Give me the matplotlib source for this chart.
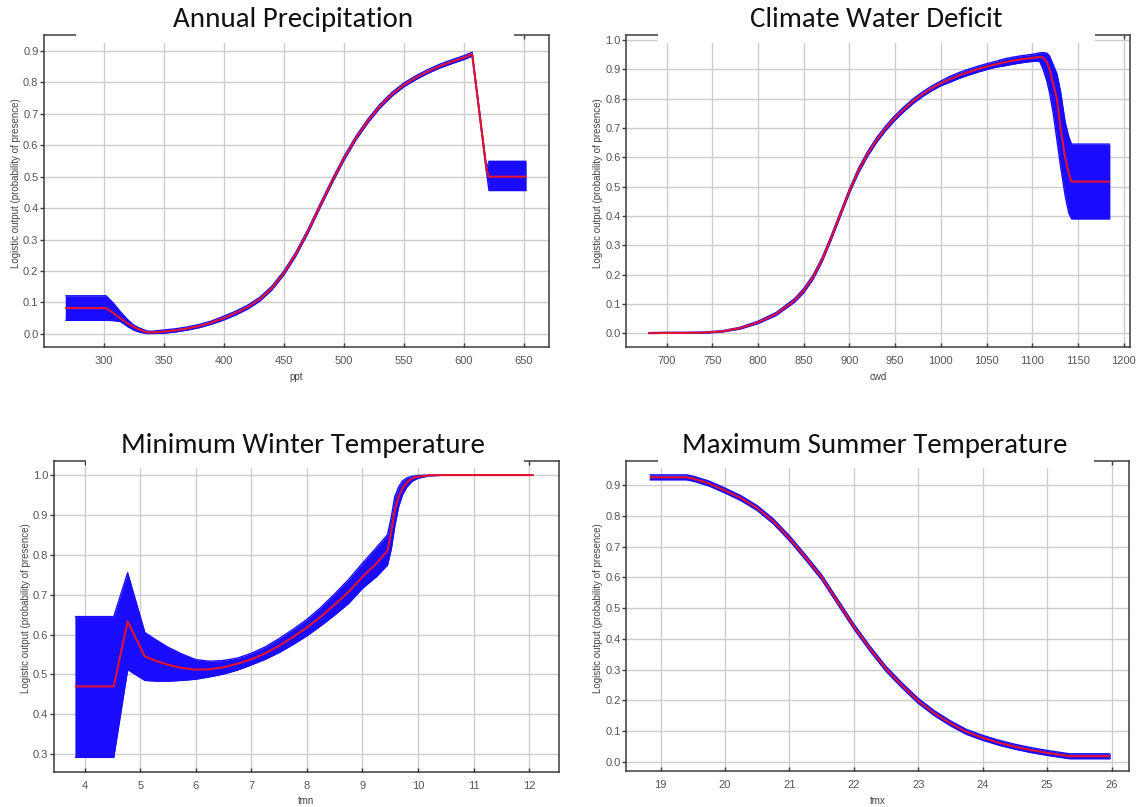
import matplotlib
matplotlib.use("Agg")
import matplotlib.pyplot as plt
from matplotlib import font_manager as fm
from matplotlib.patches import Rectangle

# ---------------- data ----------------
ppt_x = [268, 302, 308, 314, 320, 325, 330, 336, 340, 350,
         360, 370, 380, 390, 400, 410, 420, 430, 440, 450,
         460, 470, 480, 490, 500, 510, 520, 530, 540, 550,
         560, 570, 580, 590, 600, 607, 619, 621, 652]
ppt_mean = [0.082, 0.082, 0.066, 0.049, 0.033, 0.022, 0.013, 0.005, 0.004, 0.007,
            0.011, 0.017, 0.025, 0.036, 0.050, 0.066, 0.085, 0.110, 0.145, 0.193,
            0.253, 0.325, 0.405, 0.483, 0.557, 0.622, 0.677, 0.724, 0.762, 0.792,
            0.815, 0.835, 0.852, 0.866, 0.879, 0.890, 0.520, 0.500, 0.500]
ppt_hi = [0.121, 0.121, 0.098, 0.070, 0.045, 0.028, 0.018, 0.009, 0.008, 0.012,
          0.016, 0.022, 0.030, 0.041, 0.056, 0.072, 0.091, 0.116, 0.151, 0.199,
          0.259, 0.331, 0.411, 0.489, 0.563, 0.628, 0.683, 0.730, 0.768, 0.798,
          0.821, 0.841, 0.858, 0.872, 0.885, 0.896, 0.527, 0.549, 0.549]
ppt_lo = [0.043, 0.043, 0.042, 0.039, 0.023, 0.012, 0.005, 0.001, 0.001, 0.002,
          0.006, 0.012, 0.020, 0.031, 0.044, 0.060, 0.079, 0.104, 0.139, 0.187,
          0.247, 0.319, 0.399, 0.477, 0.551, 0.616, 0.671, 0.718, 0.756, 0.786,
          0.809, 0.829, 0.846, 0.860, 0.873, 0.884, 0.513, 0.456, 0.456]
ppt_ticks = [300, 350, 400, 450, 500, 550, 600, 650]

cwd_x = [680, 700, 720, 740, 760, 780, 800, 820, 840, 850,
         860, 870, 880, 890, 900, 910, 920, 930, 940, 950,
         960, 970, 980, 990, 1000, 1010, 1020, 1030, 1040, 1050,
         1060, 1070, 1080, 1090, 1100, 1108, 1112, 1116, 1119, 1123,
         1127, 1131, 1136, 1140, 1143, 1185]
cwd_mean = [0.000, 0.001, 0.001, 0.002, 0.006, 0.017, 0.037, 0.066, 0.112, 0.145,
            0.190, 0.250, 0.325, 0.405, 0.485, 0.555, 0.612, 0.660, 0.700, 0.735,
            0.765, 0.792, 0.815, 0.835, 0.852, 0.866, 0.879, 0.890, 0.900, 0.909,
            0.917, 0.924, 0.930, 0.935, 0.939, 0.942, 0.940, 0.925, 0.900, 0.850,
            0.800, 0.700, 0.600, 0.545, 0.517, 0.517]
cwd_hi = [0.002, 0.003, 0.003, 0.004, 0.008, 0.020, 0.041, 0.071, 0.118, 0.152,
          0.197, 0.257, 0.332, 0.412, 0.492, 0.563, 0.620, 0.668, 0.708, 0.743,
          0.773, 0.800, 0.823, 0.843, 0.860, 0.876, 0.889, 0.900, 0.910, 0.919,
          0.927, 0.936, 0.942, 0.947, 0.951, 0.956, 0.957, 0.955, 0.945, 0.915,
          0.885, 0.825, 0.720, 0.670, 0.645, 0.645]
cwd_lo = [0.000, 0.000, 0.000, 0.000, 0.004, 0.014, 0.033, 0.061, 0.106, 0.138,
          0.183, 0.243, 0.318, 0.398, 0.478, 0.547, 0.604, 0.652, 0.692, 0.727,
          0.757, 0.784, 0.807, 0.827, 0.844, 0.856, 0.869, 0.880, 0.890, 0.899,
          0.907, 0.912, 0.918, 0.923, 0.927, 0.928, 0.900, 0.860, 0.820, 0.750,
          0.660, 0.570, 0.470, 0.410, 0.390, 0.390]
cwd_ticks = [700, 750, 800, 850, 900, 950, 1000, 1050, 1100, 1150, 1200]

tmn_x = [3.82, 4.52, 4.77, 5.08, 5.3, 5.5, 5.75, 6.0, 6.25, 6.5,
         6.75, 7.0, 7.25, 7.5, 7.75, 8.0, 8.25, 8.5, 8.75, 9.0,
         9.25, 9.45, 9.52, 9.58, 9.65, 9.72, 9.8, 9.9, 10.0, 10.2,
         10.5, 11.0, 12.08]
tmn_mean = [0.470, 0.470, 0.633, 0.545, 0.533, 0.524, 0.516, 0.512, 0.513, 0.518,
            0.527, 0.538, 0.553, 0.572, 0.594, 0.618, 0.645, 0.675, 0.707, 0.745,
            0.778, 0.810, 0.860, 0.910, 0.945, 0.967, 0.982, 0.992, 0.996, 0.999,
            1.000, 1.000, 1.000]
tmn_hi = [0.645, 0.645, 0.755, 0.605, 0.585, 0.568, 0.551, 0.537, 0.533, 0.535,
          0.541, 0.553, 0.569, 0.590, 0.613, 0.638, 0.668, 0.702, 0.738, 0.779,
          0.818, 0.850, 0.895, 0.945, 0.970, 0.985, 0.993, 0.997, 0.999, 1.000,
          1.000, 1.000, 1.000]
tmn_lo = [0.292, 0.292, 0.512, 0.485, 0.483, 0.483, 0.485, 0.488, 0.494, 0.501,
          0.511, 0.524, 0.538, 0.555, 0.575, 0.597, 0.622, 0.649, 0.678, 0.716,
          0.745, 0.774, 0.815, 0.870, 0.920, 0.950, 0.970, 0.985, 0.992, 0.998,
          1.000, 1.000, 1.000]
tmn_ticks = [4, 5, 6, 7, 8, 9, 10, 11, 12]

tmx_x = [18.83, 19.4, 19.5, 19.75, 20.0, 20.25, 20.5, 20.75, 21.0, 21.25,
         21.5, 21.75, 22.0, 22.25, 22.5, 22.75, 23.0, 23.25, 23.5, 23.75,
         24.0, 24.25, 24.5, 24.75, 25.0, 25.25, 25.35, 25.98]
tmx_mean = [0.925, 0.925, 0.921, 0.905, 0.882, 0.857, 0.825, 0.782, 0.727, 0.665,
            0.600, 0.520, 0.440, 0.368, 0.302, 0.248, 0.198, 0.158, 0.125, 0.097,
            0.078, 0.062, 0.049, 0.038, 0.029, 0.021, 0.018, 0.018]
tmx_hi = [0.933, 0.933, 0.929, 0.913, 0.890, 0.865, 0.833, 0.790, 0.735, 0.673,
          0.608, 0.528, 0.448, 0.376, 0.310, 0.256, 0.206, 0.166, 0.133, 0.105,
          0.086, 0.070, 0.057, 0.046, 0.037, 0.029, 0.026, 0.026]
tmx_lo = [0.917, 0.917, 0.913, 0.897, 0.874, 0.849, 0.817, 0.774, 0.719, 0.657,
          0.592, 0.512, 0.432, 0.360, 0.294, 0.240, 0.190, 0.150, 0.117, 0.089,
          0.070, 0.054, 0.041, 0.030, 0.021, 0.013, 0.010, 0.010]
tmx_ticks = [19, 20, 21, 22, 23, 24, 25, 26]

titles = ["Annual Precipitation", "Climate Water Deficit",
          "Minimum Winter Temperature", "Maximum Summer Temperature"]
xlabels = ["ppt", "cwd", "tmn", "tmx"]
ylabel_text = "Logistic output (probability of presence)"

# ---------------- style / layout ----------------
installed = {f.name for f in fm.fontManager.ttflist}
TITLE_FONT = "Carlito" if "Carlito" in installed else "Lato"
TICK_FONT = "Liberation Sans"

W, H = 1138, 807
BLUE = "#1a0cff"
RED = "#e3122d"
SPINE = "#3c3c3c"
GRID = "#cdcdcd"

fig = plt.figure(figsize=(W / 100, H / 100), dpi=100)

panels = [
    dict(x=ppt_x, mean=ppt_mean, hi=ppt_hi, lo=ppt_lo, ticks=ppt_ticks,
         box=(44, 35, 549, 347), xlim=(250.3, 671), ylim=(-0.042, 0.951),
         yticks=[0.0, 0.1, 0.2, 0.3, 0.4, 0.5, 0.6, 0.7, 0.8, 0.9],
         title_xy=(292.7, 19.5), title_w=240),
    dict(x=cwd_x, mean=cwd_mean, hi=cwd_hi, lo=cwd_lo, ticks=cwd_ticks,
         box=(626.4, 35, 1130, 347), xlim=(656, 1207), ylim=(-0.047, 1.017),
         yticks=[0.0, 0.1, 0.2, 0.3, 0.4, 0.5, 0.6, 0.7, 0.8, 0.9, 1.0],
         title_xy=(876.4, 19.5), title_w=253),
    dict(x=tmn_x, mean=tmn_mean, hi=tmn_hi, lo=tmn_lo, ticks=tmn_ticks,
         box=(53.8, 460.7, 559, 771.7), xlim=(3.44, 12.54), ylim=(0.256, 1.036),
         yticks=[0.3, 0.4, 0.5, 0.6, 0.7, 0.8, 0.9, 1.0],
         title_xy=(302.7, 446), title_w=362),
    dict(x=tmx_x, mean=tmx_mean, hi=tmx_hi, lo=tmx_lo, ticks=tmx_ticks,
         box=(626.4, 460.7, 1128.9, 771), xlim=(18.47, 26.27), ylim=(-0.030, 0.979),
         yticks=[0.0, 0.1, 0.2, 0.3, 0.4, 0.5, 0.6, 0.7, 0.8, 0.9],
         title_xy=(875, 446), title_w=385),
]

title_artists = []
for i, p in enumerate(panels):
    l, t, r, b = p["box"]
    ax = fig.add_axes([l / W, 1 - b / H, (r - l) / W, (b - t) / H])
    ax.fill_between(p["x"], p["lo"], p["hi"], color=BLUE, lw=0, zorder=2)
    ax.plot(p["x"], p["hi"], color=BLUE, lw=1.0, zorder=2, solid_capstyle="butt")
    ax.plot(p["x"], p["lo"], color=BLUE, lw=1.0, zorder=2, solid_capstyle="butt")
    ax.plot(p["x"], p["mean"], color=RED, lw=1.5, zorder=3, solid_capstyle="butt")

    ax.set_xlim(*p["xlim"])
    ax.set_ylim(*p["ylim"])
    ax.set_xticks(p["ticks"])
    ax.set_xticklabels([f"{v:g}" for v in p["ticks"]])
    ax.set_yticks(p["yticks"])
    ax.set_yticklabels([f"{v:.1f}" for v in p["yticks"]])
    ax.set_axisbelow(True)
    ax.grid(True, color=GRID, linewidth=1.0)
    for s in ax.spines.values():
        s.set_color(SPINE)
        s.set_linewidth(1.1)
    ax.tick_params(axis="y", direction="out", length=3, width=1, color=SPINE,
                   labelsize=8, labelcolor="#555555", pad=1)
    ax.tick_params(axis="x", direction="in", length=3, width=1, color=SPINE,
                   top=True, labelsize=8, labelcolor="#555555", pad=6.5)
    for lab in ax.get_xticklabels() + ax.get_yticklabels():
        lab.set_family(TICK_FONT)

    ax.set_ylabel(ylabel_text, fontsize=7, color="#444444", family=TICK_FONT)
    ax.yaxis.set_label_coords(-0.046, 0.525)
    ax.set_xlabel(xlabels[i], fontsize=7, color="#444444", family=TICK_FONT)
    ax.xaxis.label.set_va("center")
    ax.xaxis.set_label_coords(0.5, -29.7 / (b - t))

    # white box behind the title, interrupting the top frame line
    ax.add_patch(Rectangle((0.063, 0.975), 0.867, 0.07, transform=ax.transAxes,
                           facecolor="white", edgecolor="none", clip_on=False,
                           zorder=5))

    tx, ty = p["title_xy"]
    ta = fig.text(tx / W, 1 - ty / H, titles[i], ha="center", va="center",
                  fontsize=18, family=TITLE_FONT, color="#111111")
    title_artists.append((ta, p["title_w"]))

# fit title size to the measured widths in the reference
fig.canvas.draw()
rend = fig.canvas.get_renderer()
ratios = [w / ta.get_window_extent(rend).width for ta, w in title_artists]
scale = sum(ratios) / len(ratios)
for ta, _ in title_artists:
    ta.set_fontsize(18 * scale)

fig.savefig("out.png", dpi=100, facecolor="white")
